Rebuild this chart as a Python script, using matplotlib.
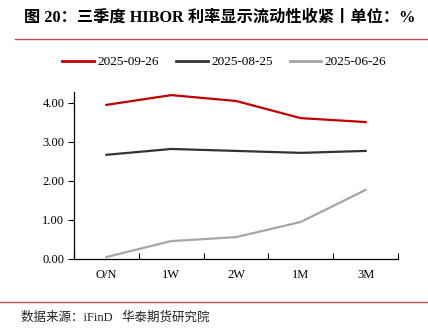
import numpy as np
import matplotlib
import matplotlib.pyplot as plt
from matplotlib.lines import Line2D

matplotlib.use('Agg')

tenors = ['O/N', '1W', '2W', '1M', '3M']
labels = ['2025-09-26', '2025-08-25', '2025-06-26']
rates_0926 = [3.95, 4.20, 4.05, 3.61, 3.51]
rates_0825 = [2.67, 2.82, 2.77, 2.72, 2.77]
rates_0626 = [0.05, 0.46, 0.56, 0.95, 1.77]
colors = ['#C00000', '#333333', '#A6A6A6']

serif = ['Liberation Serif', 'Noto Sans CJK SC']
plt.rcParams['font.family'] = serif

fig = plt.figure(figsize=(4.28, 3.32), dpi=100)
ax = fig.add_axes([0.1729, 0.2199, 0.757, 0.503])

x = np.arange(len(tenors))
for vals, c, lab in zip([rates_0926, rates_0825, rates_0626], colors, labels):
    ax.plot(x, vals, color=c, lw=1.6, label=lab)

ax.set_xlim(-0.5, 4.5)
ax.set_ylim(0, 4.28)
ax.set_yticks([0, 1, 2, 3, 4])
ax.set_yticklabels(['%.2f' % v for v in [0, 1, 2, 3, 4]], fontsize=9)
ax.set_xticks(x)
ax.set_xticklabels(tenors, fontsize=9)
ax.set_xticks(np.arange(-0.5, 5, 1), minor=True)
ax.tick_params(axis='x', which='major', length=0, pad=7)
ax.tick_params(axis='x', which='minor', length=4, width=0.8, direction='in')
ax.tick_params(axis='y', length=4, width=0.8, direction='out', pad=3)
for s in ['top', 'right']:
    ax.spines[s].set_visible(False)
for s in ['left', 'bottom']:
    ax.spines[s].set_linewidth(0.9)

handles = [Line2D([0], [0], color=c, lw=2) for c in colors]
fig.legend(handles, labels, loc='center', bbox_to_anchor=(0.524, 0.813), ncol=3,
           frameon=False, fontsize=9.5, handlelength=2.4, columnspacing=1.3, handletextpad=0.25)

fig.text(0.056, 0.948, '图 20：三季度 HIBOR 利率显示流动性收紧丨单位：%', fontsize=11.7,
         fontweight='bold', va='center', ha='left', family=serif)
fig.add_artist(Line2D([0.035, 1.0], [0.882, 0.882], color='#C0504D', lw=1.0))
fig.add_artist(Line2D([0.0, 1.0], [0.089, 0.089], color='#C0504D', lw=1.0))
fig.text(0.05, 0.042, '数据来源：iFinD   华泰期货研究院', fontsize=9, va='center', ha='left',
         family=serif, color='#222222')

fig.savefig('out.png', dpi=100)
